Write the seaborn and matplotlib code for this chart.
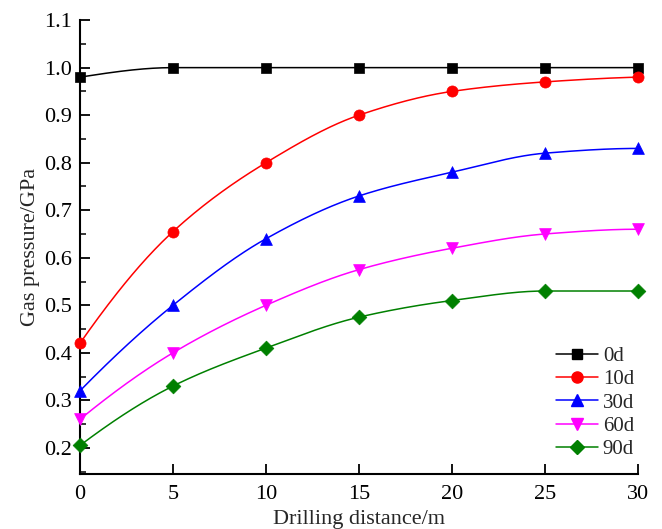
import numpy as np
import pandas as pd
import matplotlib
matplotlib.use('Agg')
import matplotlib.pyplot as plt
import seaborn as sns
from matplotlib.lines import Line2D
from matplotlib.ticker import MultipleLocator

# dados
distancia = [0, 5, 10, 15, 20, 25, 30]
p_0d = [0.98, 1.00, 1.00, 1.00, 1.00, 1.00, 1.00]
p_10d = [0.42, 0.655, 0.80, 0.90, 0.95, 0.97, 0.98]
p_30d = [0.32, 0.50, 0.64, 0.73, 0.78, 0.82, 0.83]
p_60d = [0.26, 0.40, 0.50, 0.575, 0.62, 0.65, 0.66]
p_90d = [0.205, 0.33, 0.41, 0.475, 0.51, 0.53, 0.53]
rotulos = ['0d', '10d', '30d', '60d', '90d']

series = [p_0d, p_10d, p_30d, p_60d, p_90d]
cores = ['#000000', '#FF0000', '#0000FF', '#FF00FF', '#008000']
marcadores = ['s', 'o', '^', 'v', 'D']
tamanhos = [7, 8, 8.5, 8.5, 7.5]


def curva_suave(x, y, xs):
    # interpolacao monotona (pchip) so para desenhar a linha suave
    x = np.asarray(x, float)
    y = np.asarray(y, float)
    h = np.diff(x)
    delta = np.diff(y) / h
    n = len(x)
    d = np.zeros(n)
    for k in range(1, n - 1):
        if delta[k - 1] * delta[k] > 0:
            w1 = 2 * h[k] + h[k - 1]
            w2 = h[k] + 2 * h[k - 1]
            d[k] = (w1 + w2) / (w1 / delta[k - 1] + w2 / delta[k])
    d[0] = ((2 * h[0] + h[1]) * delta[0] - h[0] * delta[1]) / (h[0] + h[1])
    if np.sign(d[0]) != np.sign(delta[0]):
        d[0] = 0
    d[-1] = ((2 * h[-1] + h[-2]) * delta[-1] - h[-1] * delta[-2]) / (h[-1] + h[-2])
    if np.sign(d[-1]) != np.sign(delta[-1]):
        d[-1] = 0
    idx = np.clip(np.searchsorted(x, xs) - 1, 0, n - 2)
    t = (xs - x[idx]) / h[idx]
    h00 = 2 * t ** 3 - 3 * t ** 2 + 1
    h10 = t ** 3 - 2 * t ** 2 + t
    h01 = -2 * t ** 3 + 3 * t ** 2
    h11 = t ** 3 - t ** 2
    return h00 * y[idx] + h10 * h[idx] * d[idx] + h01 * y[idx + 1] + h11 * h[idx] * d[idx + 1]


sns.set_theme(style='ticks')
plt.rcParams['font.family'] = ['Liberation Serif', 'DejaVu Serif']

fig = plt.figure(figsize=(6.62, 5.29), dpi=100)
ax = fig.add_axes([0.1208, 0.104, 0.843, 0.858])

x_suave = np.linspace(0, 30, 300)
for vals, cor, mk, ms, rot in zip(series, cores, marcadores, tamanhos, rotulos):
    df_curva = pd.DataFrame({'x': x_suave, 'y': curva_suave(distancia, vals, x_suave)})
    sns.lineplot(data=df_curva, x='x', y='y', color=cor, linewidth=1.1, ax=ax, zorder=2)
    df_pts = pd.DataFrame({'x': distancia, 'y': vals})
    sns.scatterplot(data=df_pts, x='x', y='y', color=cor, marker=mk, s=ms ** 2,
                    edgecolor=cor, linewidth=0.5, ax=ax, zorder=3, clip_on=False)

ax.set_xlim(0, 30)
ax.set_ylim(0.145, 1.1)
ax.xaxis.set_major_locator(MultipleLocator(5))
ax.yaxis.set_minor_locator(MultipleLocator(0.05))
ax.set_yticks(np.arange(0.2, 1.11, 0.1))
ax.set_yticklabels([f'{v:.1f}' for v in np.arange(0.2, 1.11, 0.1)])
ax.tick_params(axis='both', which='major', direction='in', length=7, width=1.3,
               labelsize=16, colors='black', pad=6)
ax.tick_params(axis='x', which='major', pad=8)
ax.tick_params(axis='y', which='minor', direction='in', length=4, width=1.3)
for lado in ['left', 'bottom']:
    ax.spines[lado].set_linewidth(1.5)
    ax.spines[lado].set_color('black')
sns.despine(ax=ax, top=True, right=True)

ax.set_xlabel('Drilling distance/m', fontsize=16, labelpad=4)
ax.set_ylabel('Gas pressure/GPa', fontsize=16, labelpad=3)

handles = [Line2D([0], [0], color=c, marker=m, markersize=s, linewidth=1.1)
           for c, m, s in zip(cores, marcadores, tamanhos)]
ax.legend(handles, rotulos, loc='lower right', bbox_to_anchor=(1.008, 0.014),
          frameon=False, fontsize=15, handlelength=2.0, handletextpad=0.25,
          labelspacing=0.18, borderaxespad=0)

fig.savefig('out.png', dpi=100)
